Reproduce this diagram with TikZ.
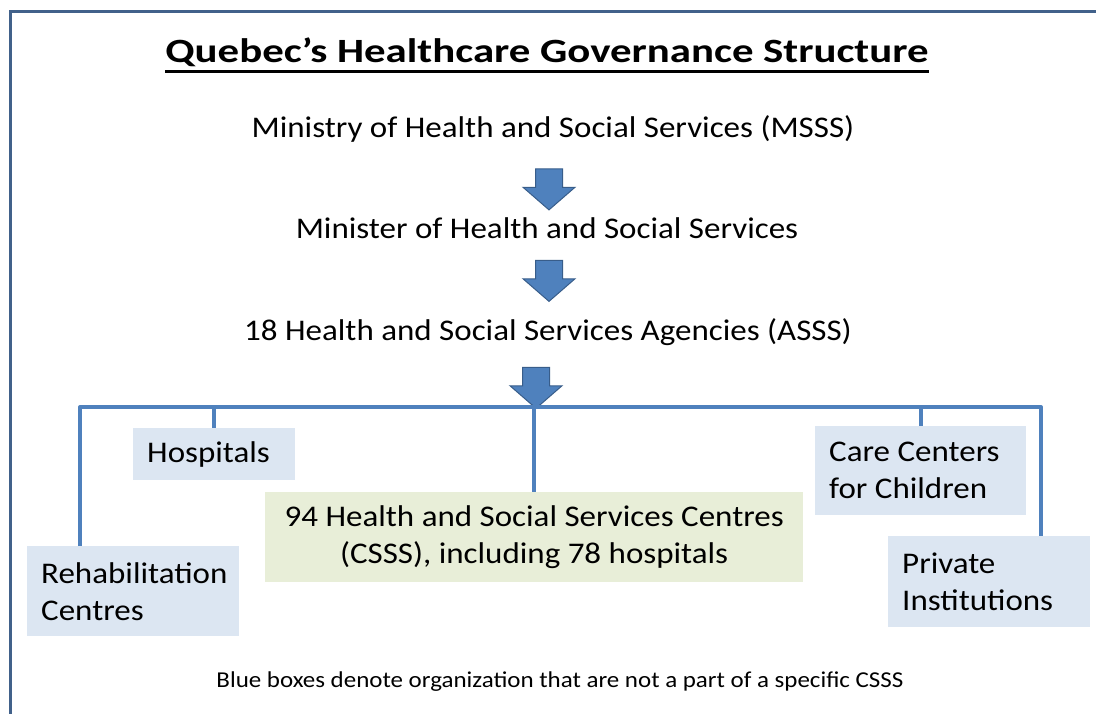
\documentclass[tikz,border=0pt]{standalone}
\usepackage{fontspec}
\setmainfont{Carlito}[FakeStretch=1.1]
\newfontfamily\titlefont{Carlito}[FakeStretch=1.26]
\usepackage{xcolor}
\usetikzlibrary{shapes.arrows,positioning}
\definecolor{qcframe}{RGB}{65,97,138}
\definecolor{qcline}{RGB}{79,129,189}
\definecolor{qcedge}{RGB}{56,93,138}
\definecolor{qcblue}{RGB}{220,230,242}
\definecolor{qcgreen}{RGB}{232,238,216}

\begin{document}
\begin{tikzpicture}[
    x=1pt, y=-1pt,
    level/.style={anchor=base, inner sep=0pt, font=\fontsize{30}{37}\selectfont},
    box/.style={rectangle, anchor=north west, fill=qcblue, inner xsep=14pt, inner ysep=0pt, align=flush left, font=\fontsize{30}{37}\selectfont},
    downarrow/.style={single arrow, rotate=-90, fill=qcline, draw=qcedge, line width=1pt, inner xsep=0pt, inner ysep=13pt, minimum height=41pt, single arrow head extend=12.5pt, single arrow tip angle=98},
    bus/.style={draw=qcline, line width=4pt, line join=round}
]
    \useasboundingbox (0,0) rectangle (1096,713);
    \draw[qcframe, line width=3pt] (10.5,720) -- (10.5,11) -- (1100,11);

    % title and the three levels
    \node[anchor=base, inner sep=0pt, font=\fontsize{34}{40}\titlefont\bfseries] (title) at (547,62) {Quebec’s Healthcare Governance Structure};
    \draw[line width=3pt] ([yshift=-9pt]title.base west) -- ([yshift=-9pt]title.base east);
    \node[level] (msss) at (553,137) {Ministry of Health and Social Services (MSSS)};
    \node[downarrow] (arr1) at (549,183.5) {};
    \node[level] (minister) at (547,238) {Minister of Health and Social Services};
    \node[downarrow] (arr2) at (549,275) {};
    \node[level] (asss) at (548,340) {18 Health and Social Services Agencies (ASSS)};
    \node[downarrow] (arr3) at (536,382) {};

    % organizations
    \node[box, text width=134pt, minimum height=52pt] (hosp) at (133,428) {Hospitals};
    \node[box, text width=184pt, minimum height=90pt] (rehab) at (27,546) {Rehabilitation\\Centres};
    \node[box, fill=qcgreen, align=flush center, text width=510pt, minimum height=90pt] (csss) at (265,492) {94 Health and Social Services Centres\\(CSSS), including 78 hospitals};
    \node[box, text width=183pt, minimum height=89pt] (care) at (815,426) {Care Centers\\for Children};
    \node[box, text width=174pt, minimum height=91pt] (private) at (888,536) {Private\\Institutions};

    % branches
    \coordinate (busL) at (80,407);
    \coordinate (busR) at (1041,407);
    \draw[bus] (rehab.north -| busL) -- (busL) -- (busR) -- (private.north -| busR);
    \draw[bus] (hosp.north |- busL) -- (hosp.north);
    \draw[bus] (csss.north |- busL) -- (csss.north);
    \draw[bus] (care.north |- busL) -- (care.north);

    \node[anchor=base, inner sep=0pt, font=\fontsize{22.7}{26}\selectfont] (note) at (560,687) {Blue boxes denote organization that are not a part of a specific CSSS};
\end{tikzpicture}
\end{document}
